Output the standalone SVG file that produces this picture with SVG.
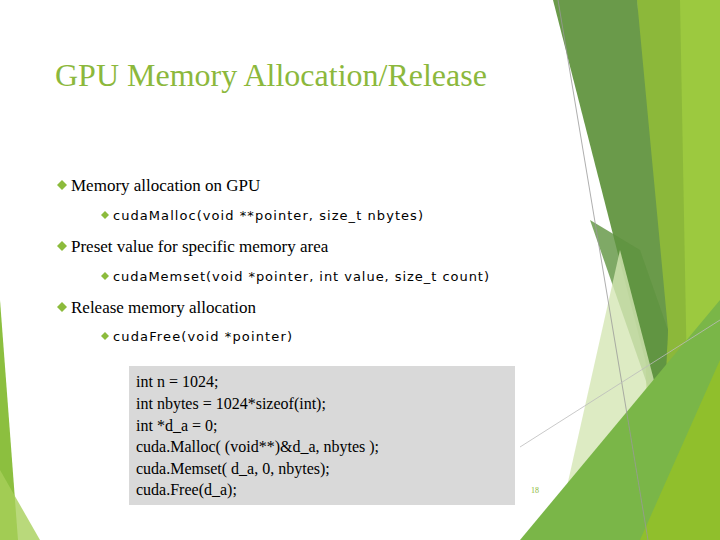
<svg xmlns="http://www.w3.org/2000/svg" width="720" height="540" viewBox="0 0 720 540">
<style>
.t{font-family:"Liberation Serif",serif;fill:#000}
.l1{font-size:17px}
.l2{font-family:"DejaVu Sans",sans-serif;font-size:13px;fill:#000}
.b{fill:#8cbb3c}
.code{font-family:"Liberation Serif",serif;font-size:16px;fill:#000}
</style>
<rect width="720" height="540" fill="#fff"/>
<g id="decor">
<polygon points="0,300 18,540 0,540" fill="#8cbf3f"/>
<polygon points="0,470 40,540 0,540" fill="#a7cf5a" opacity="0.8"/>
<polygon points="637,0 720,0 720,540 650,540" fill="#8cb83a"/>
<polygon points="680,0 720,0 720,540 690,540" fill="#9cc93f"/>
<polygon points="553,0 637,0 668,330 663,430" fill="#6a9a4a"/>
<polygon points="590,220 640,250 668,330 663,430" fill="#5f9440" opacity="0.8"/>
<polygon points="555,540 620,250 680,480 660,540" fill="#d4e6b4" opacity="0.8"/>
<polygon points="520,540 720,300 720,540" fill="#7ab648"/>
<polygon points="640,540 720,360 720,540" fill="#90bf2c"/>
<line x1="558" y1="0" x2="648" y2="540" stroke="#999" stroke-width="0.8"/>
<line x1="520" y1="447" x2="720" y2="320" stroke="#bbb" stroke-width="0.8"/>
</g>
<g id="title"><text class="t" x="55" y="86" font-size="32" fill="#8cb83c" style="fill:#8cb83c">GPU Memory Allocation/Release</text></g>
<g id="bullets">
<path class="b" d="M62,180 l5,5 l-5,5 l-5,-5z"/>
<text class="t l1" x="71" y="191">Memory allocation on GPU</text>
<path class="b" d="M105,211 l4,4 l-4,4 l-4,-4z"/>
<text class="l2" x="113" y="220" textLength="310">cudaMalloc(void **pointer, size_t nbytes)</text>
<path class="b" d="M62,241 l5,5 l-5,5 l-5,-5z"/>
<text class="t l1" x="71" y="252">Preset value for specific memory area</text>
<path class="b" d="M105,272 l4,4 l-4,4 l-4,-4z"/>
<text class="l2" x="113" y="281" textLength="376">cudaMemset(void *pointer, int value, size_t count)</text>
<path class="b" d="M62,302 l5,5 l-5,5 l-5,-5z"/>
<text class="t l1" x="71" y="313">Release memory allocation</text>
<path class="b" d="M105,332 l4,4 l-4,4 l-4,-4z"/>
<text class="l2" x="113" y="341" textLength="179">cudaFree(void *pointer)</text>
</g>
<g id="codebox">
<rect x="129" y="366" width="386" height="139" fill="#d9d9d9"/>
<text class="code" x="136" y="387">int n = 1024;</text>
<text class="code" x="136" y="409">int nbytes = 1024*sizeof(int);</text>
<text class="code" x="136" y="431">int *d_a = 0;</text>
<text class="code" x="136" y="452">cuda.Malloc( (void**)&amp;d_a, nbytes );</text>
<text class="code" x="136" y="474">cuda.Memset( d_a, 0, nbytes);</text>
<text class="code" x="136" y="495">cuda.Free(d_a);</text>
</g>
<text x="531" y="493" font-family="Liberation Serif,serif" font-size="8" fill="#8cb83c">18</text>
</svg>
